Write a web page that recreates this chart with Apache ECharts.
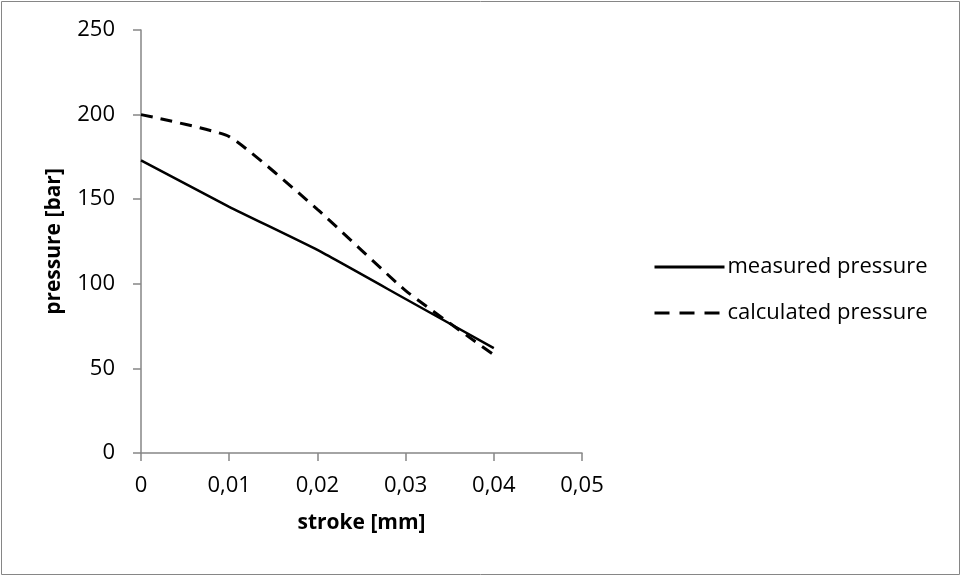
<!DOCTYPE html>
<html>
<head>
<meta charset="utf-8">
<script src="https://cdn.jsdelivr.net/npm/echarts@6/dist/echarts.min.js"></script>
<style>
  html, body { margin: 0; padding: 0; background: #fff; }
  #chart { width: 962px; height: 577px; }
</style>
</head>
<body>
<div id="chart"></div>
<script>
// stroke [mm]
const stroke = [0, 0.01, 0.02, 0.03, 0.04]
// pressure [bar]
const measured = [173, 145.5, 120, 91, 62]
const calculated = [200, 187, 144, 96, 58]

const font = '"Open Sans", Lato, sans-serif'

function pairs(xs, ys) {
  let data = []
  for (let i in xs) {
    data.push([xs[i], ys[i]])
  }
  return data
}

const comma = v => String(v).replace('.', ',')

const option = {
  animation: false,
  backgroundColor: '#fff',
  graphic: [
    {
      type: 'rect',
      shape: {x: 1.5, y: 1.5, width: 958, height: 573},
      style: {fill: 'none', stroke: '#868686', lineWidth: 1}
    }
  ],
  grid: {left: 141, right: 380, top: 30, bottom: 124},
  legend: {
    orient: 'vertical',
    left: 648,
    top: 251,
    itemWidth: 70,
    itemHeight: 14,
    itemGap: 24,
    itemStyle: {opacity: 0},
    lineStyle: {width: 3},
    textStyle: {fontFamily: font, fontSize: 22, color: '#000', padding: [0, 0, 0, -2]},
    data: [
      {name: 'measured pressure'},
      {name: 'calculated pressure', lineStyle: {type: [15, 10], width: 3}}
    ]
  },
  xAxis: {
    type: 'value',
    min: 0,
    max: 0.05,
    interval: 0.01,
    name: 'stroke [mm]',
    nameLocation: 'middle',
    nameGap: 60,
    nameTextStyle: {fontFamily: font, fontSize: 21, fontWeight: 'bold', color: '#000'},
    axisLine: {lineStyle: {color: '#868686', width: 1.5}},
    axisTick: {show: true, length: 8, lineStyle: {color: '#868686', width: 1.5}},
    axisLabel: {formatter: comma, fontFamily: font, fontSize: 22, color: '#000', margin: 22},
    splitLine: {show: false}
  },
  yAxis: {
    type: 'value',
    min: 0,
    max: 250,
    interval: 50,
    name: 'pressure [bar]',
    nameLocation: 'middle',
    nameGap: 76,
    nameTextStyle: {fontFamily: font, fontSize: 21, fontWeight: 'bold', color: '#000'},
    axisLine: {show: true, lineStyle: {color: '#868686', width: 1.5}},
    axisTick: {show: true, length: 8, lineStyle: {color: '#868686', width: 1.5}},
    axisLabel: {fontFamily: font, fontSize: 22, color: '#000', margin: 26},
    splitLine: {show: false}
  },
  series: [
    {
      name: 'measured pressure',
      type: 'line',
      data: pairs(stroke, measured),
      smooth: 0.15,
      showSymbol: false,
      symbol: 'none',
      lineStyle: {color: '#000', width: 2.5}
    },
    {
      name: 'calculated pressure',
      type: 'line',
      data: pairs(stroke, calculated),
      smooth: 0.15,
      showSymbol: false,
      symbol: 'none',
      lineStyle: {color: '#000', width: 3, type: [12, 8]}
    }
  ]
}

const myChart = echarts.init(document.getElementById('chart'))
myChart.setOption(option)
</script>
</body>
</html>
